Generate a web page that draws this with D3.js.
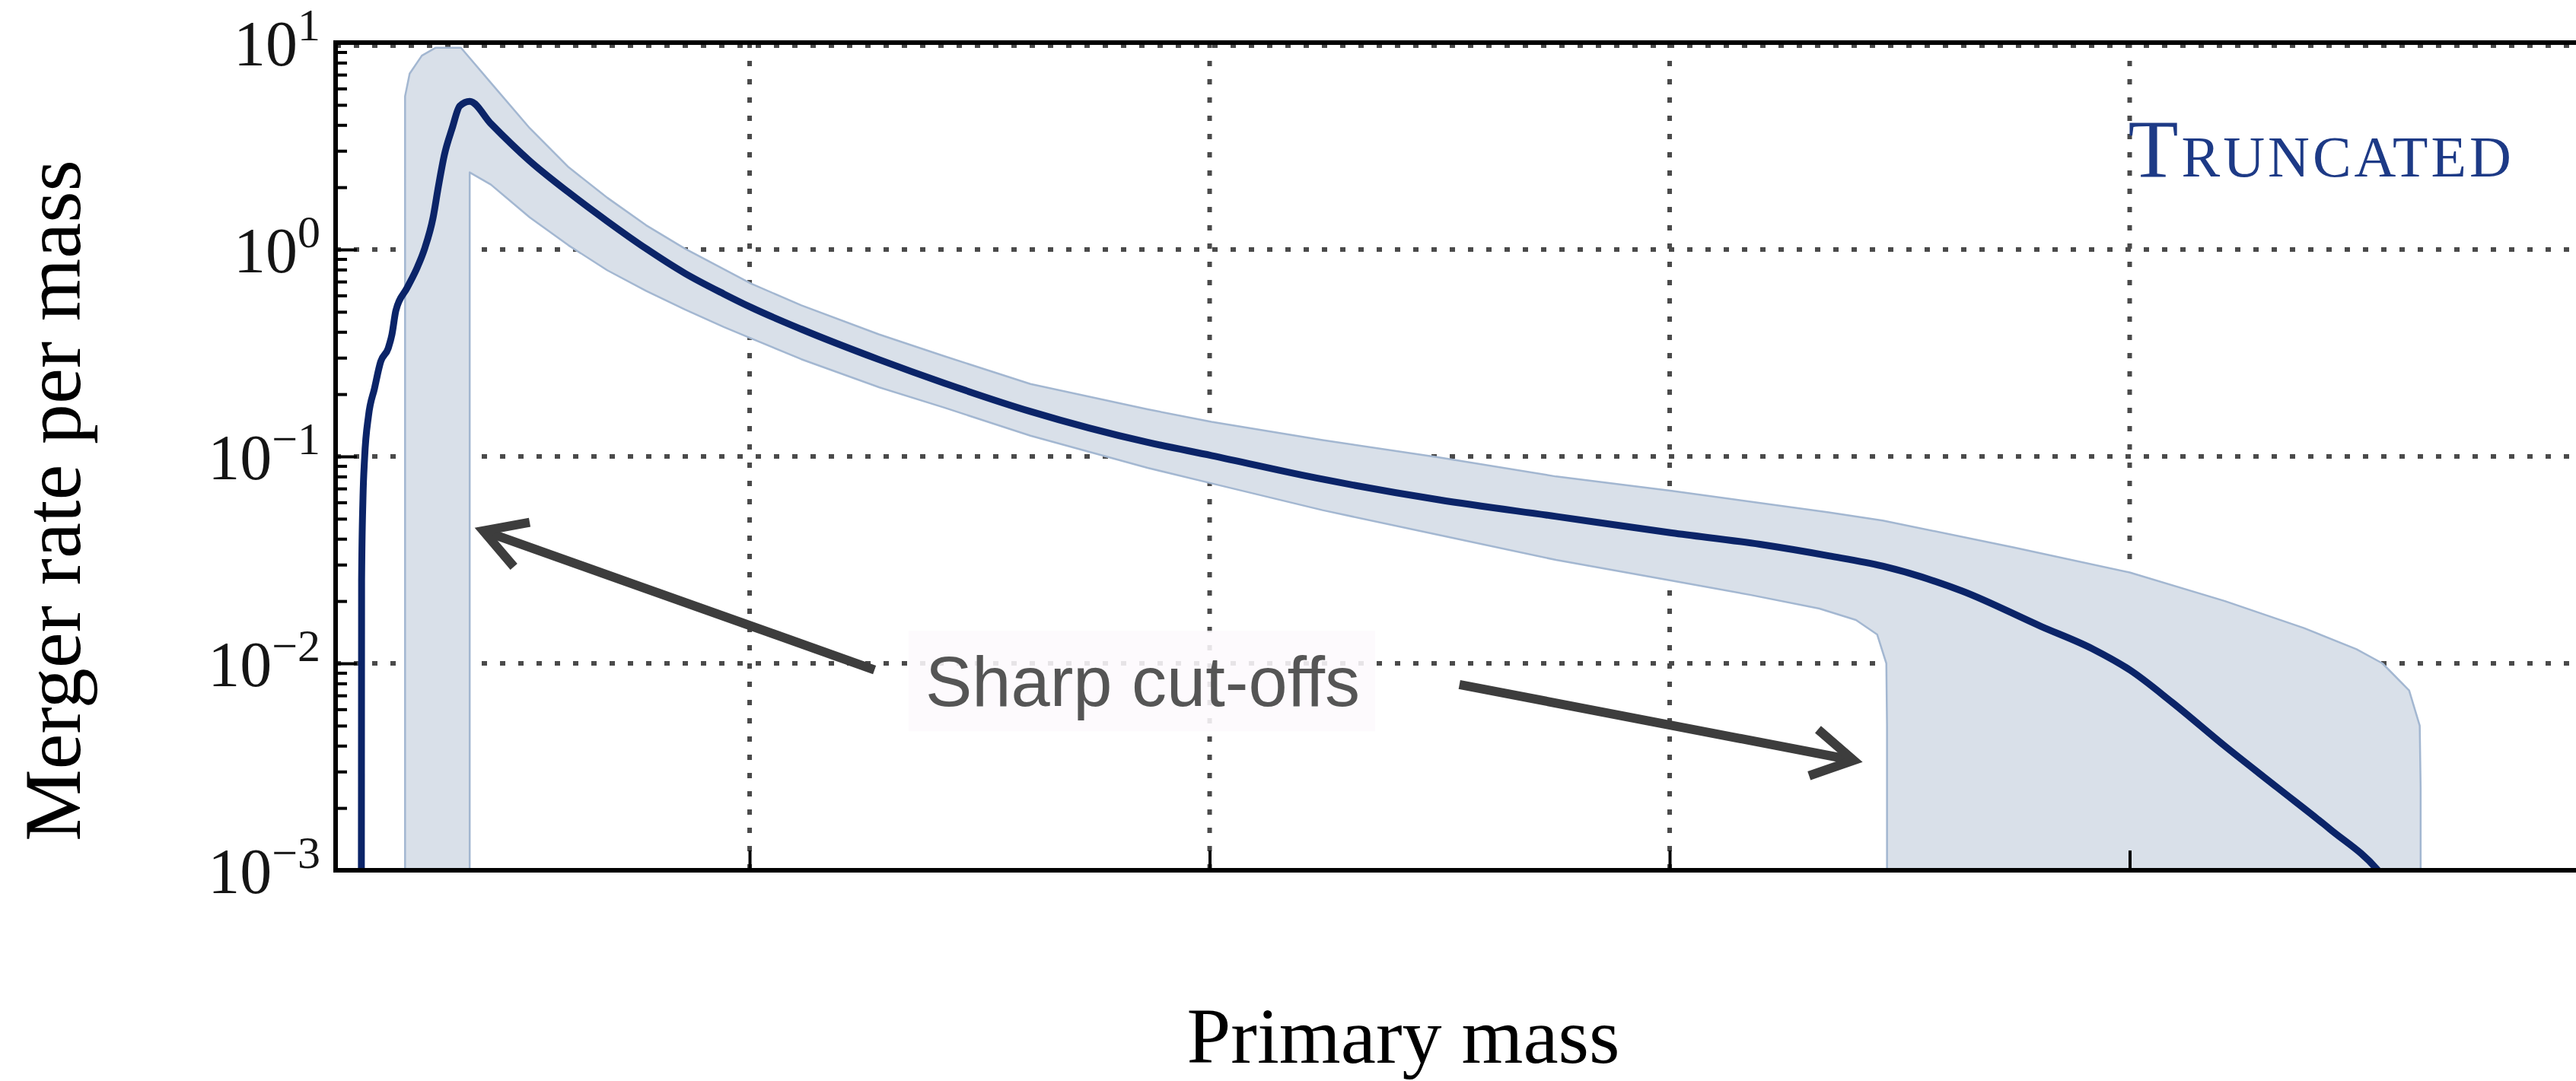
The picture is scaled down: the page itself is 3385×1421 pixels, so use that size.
<!DOCTYPE html>
<html>
<head>
<meta charset="utf-8">
<script src="https://cdn.jsdelivr.net/npm/d3@7"></script>
<style>
  html, body { margin: 0; padding: 0; background: #ffffff; }
  svg { display: block; }
</style>
</head>
<body>
<svg id="chart" width="3385" height="1421"></svg>
<script>
// Merger rate per unit primary mass for the truncated power-law model.
// Masses are in solar masses; rates per unit mass.

// Median curve
const medianMass = [3.12, 3.13, 3.19, 3.26, 3.43, 3.69, 3.96, 4.29, 4.45, 4.62,
  5.11, 5.54, 5.87, 6.24, 6.47, 6.73, 7.07, 7.40, 7.83, 8.75,
  10.44, 12.13, 13.81, 15.50, 17.19, 18.88, 20.07, 22.25, 25.62, 28.47,
  32.21, 37.30, 40.08, 44.91, 49.97, 55.06, 60.09, 63.93, 66.91, 69.26,
  72.70, 76.14, 78.42, 80.00, 81.86, 84.14, 86.42, 88.71, 90.79, 91.50];
const medianRate = [0.0008, 0.025, 0.063, 0.098, 0.157, 0.213, 0.287, 0.334, 0.389, 0.507,
  0.653, 0.815, 1.01, 1.43, 2.02, 2.87, 3.86, 4.94, 5.2, 4.06,
  2.68, 1.89, 1.37, 1.01, 0.767, 0.61, 0.525, 0.412, 0.294, 0.226,
  0.165, 0.117, 0.101, 0.0776, 0.0617, 0.0513, 0.0427, 0.0376, 0.0331, 0.0295,
  0.0224, 0.0151, 0.0117, 0.0093, 0.00646, 0.00398, 0.00251, 0.00158, 0.00100, 0.00079];

// Upper edge of the 90% credible band
const upperMass = [5.02, 5.02, 5.22, 5.75, 6.34, 7.45, 8.80, 10.44, 12.13, 13.81,
  15.50, 17.19, 18.88, 20.07, 22.25, 25.62, 28.47, 32.21, 37.30, 40.08,
  44.91, 49.97, 55.06, 60.09, 66.91, 69.26, 74.98, 80.00, 84.14, 87.58,
  89.86, 90.99, 92.15, 92.61, 92.65, 92.65];
const upperRate = [0.0005, 5.5, 7.08, 8.65, 9.44, 9.44, 6.3, 3.86, 2.5, 1.78,
  1.31, 1.01, 0.804, 0.684, 0.537, 0.389, 0.305, 0.224, 0.169, 0.147,
  0.12, 0.099, 0.080, 0.0682, 0.0537, 0.049, 0.0363, 0.0275, 0.020, 0.0148,
  0.0117, 0.010, 0.0074, 0.005, 0.0025, 0.0005];

// Lower edge of the 90% credible band
const lowerMass = [7.83, 7.83, 8.75, 10.44, 12.13, 13.81, 15.50, 17.19, 18.88, 20.07,
  22.25, 25.62, 28.47, 32.21, 37.30, 40.08, 44.91, 49.97, 55.06, 60.09,
  63.53, 66.51, 68.10, 69.02, 69.42, 69.45, 69.45];
const lowerRate = [0.0005, 2.36, 2.06, 1.43, 1.047, 0.794, 0.631, 0.513, 0.422, 0.372,
  0.295, 0.216, 0.172, 0.126, 0.0881, 0.0741, 0.055, 0.0417, 0.0316, 0.0251,
  0.0214, 0.0184, 0.0162, 0.0138, 0.010, 0.005, 0.0005];

// Axes
const massDomain = [2, 100];
const rateDomain = [1e-3, 10];
const yTickExponents = [1, 0, -1, -2, -3];
const massGrid = [20, 40, 60, 80, 100];
const rateGrid = [10, 1, 0.1, 0.01];

// Text
const xAxisTitle = "Primary mass";
const yAxisTitle = "Merger rate per mass";
const modelName = "Truncated";
const noteText = "Sharp cut-offs";

// Annotation anchors in data coordinates: [mass, rate]
const noteAnchor = [27.64, 0.00622];
const modelAnchor = [80.0, 2.25];
const arrowTails = [[25.43, 0.0093], [50.86, 0.0079]];
const arrowTips = [[8.42, 0.0437], [68.0, 0.0034]];

// ---------------------------------------------------------------------
const svg = d3.select("#chart");

const x = d3.scaleLinear().domain(massDomain).range([441, 3403]);
const y = d3.scaleLog().domain(rateDomain).range([1144, 56]);

const plotLeft = x(massDomain[0]), plotRight = x(massDomain[1]);
const plotTop = y(rateDomain[1]), plotBottom = y(rateDomain[0]);

svg.append("defs").append("clipPath").attr("id", "plot-clip")
  .append("rect")
  .attr("x", plotLeft).attr("y", plotTop)
  .attr("width", plotRight - plotLeft).attr("height", plotBottom - plotTop);

// Dotted grid
const gridStyle = g => g.attr("stroke", "#4a4a4a").attr("stroke-width", 6)
  .attr("stroke-dasharray", "7 17").attr("fill", "none");
const topGridInset = 4; // the 10^1 grid line peeks out just under the frame
const grid = svg.append("g").call(gridStyle);
grid.selectAll("line.h").data(rateGrid).join("line").attr("class", "h")
  .attr("x1", plotLeft).attr("x2", plotRight)
  .attr("y1", d => y(d) + (d === rateDomain[1] ? topGridInset : 0))
  .attr("y2", d => y(d) + (d === rateDomain[1] ? topGridInset : 0));
grid.selectAll("line.v").data(massGrid).join("line").attr("class", "v")
  .attr("x1", d => x(d)).attr("x2", d => x(d))
  .attr("y1", plotTop).attr("y2", plotBottom);

// Credible band: upper edge forward, lower edge back
const bandPoints = upperMass.map((m, i) => [m, upperRate[i]])
  .concat(lowerMass.map((m, i) => [m, lowerRate[i]]).reverse());
const bandLine = d3.line().x(d => x(d[0])).y(d => y(d[1])).curve(d3.curveLinear);

const plot = svg.append("g").attr("clip-path", "url(#plot-clip)");
plot.append("path")
  .attr("d", bandLine(bandPoints) + "Z")
  .attr("fill", "#d9e0e9")
  .attr("stroke", "#a3b7d1")
  .attr("stroke-width", 2.5)
  .attr("stroke-linejoin", "round");

// Median
const medianPoints = medianMass.map((m, i) => [m, medianRate[i]]);
plot.append("path")
  .attr("d", d3.line().x(d => x(d[0])).y(d => y(d[1])).curve(d3.curveMonotoneX)(medianPoints))
  .attr("fill", "none")
  .attr("stroke", "#0b2468")
  .attr("stroke-width", 9)
  .attr("stroke-linejoin", "round")
  .attr("stroke-linecap", "round");

// Ticks: log minor and major ticks pointing into the plot
const decades = yTickExponents.map(e => Math.pow(10, e));
const minor = y.ticks().filter(v => !decades.some(d => Math.abs(d - v) / d < 1e-9));
const tickStyle = g => {
  g.select(".domain").remove();
  g.selectAll(".tick line").attr("stroke", "#000").attr("stroke-width", 4);
  g.selectAll(".tick text").remove();
};
svg.append("g").attr("transform", `translate(${plotLeft},0)`)
  .call(d3.axisRight(y).tickValues(minor).tickSize(15).tickFormat(""))
  .call(tickStyle);
svg.append("g").attr("transform", `translate(${plotLeft},0)`)
  .call(d3.axisRight(y).tickValues(decades).tickSize(28).tickFormat(""))
  .call(tickStyle);
svg.append("g").attr("transform", `translate(0,${plotBottom})`)
  .call(d3.axisTop(x).tickValues(massGrid).tickSize(26).tickFormat(""))
  .call(tickStyle);

// Frame
svg.append("rect")
  .attr("x", plotLeft).attr("y", plotTop)
  .attr("width", plotRight - plotLeft).attr("height", plotBottom - plotTop)
  .attr("fill", "none").attr("stroke", "#000").attr("stroke-width", 6);

// Y tick labels (10^n)
svg.append("g")
  .attr("font-family", "'Liberation Serif', 'DejaVu Serif', serif")
  .attr("fill", "#151515")
  .selectAll("text").data(yTickExponents).join("text")
  .attr("x", plotLeft - 20)
  .attr("y", d => y(Math.pow(10, d)) + 30)
  .attr("text-anchor", "end")
  .attr("font-size", 84)
  .each(function (d) {
    const t = d3.select(this);
    t.append("tspan").text("10");
    t.append("tspan").attr("dy", -33).attr("font-size", 60)
      .text(d < 0 ? "\u2212" + Math.abs(d) : String(d));
  });

// Axis titles
svg.append("text")
  .attr("x", 1844).attr("y", 1397)
  .attr("text-anchor", "middle")
  .attr("font-family", "'Liberation Serif', 'Times New Roman', serif")
  .attr("font-size", 104).attr("fill", "#000")
  .text(xAxisTitle);

svg.append("text")
  .attr("transform", "translate(105,658) rotate(-90)")
  .attr("text-anchor", "middle")
  .attr("font-family", "'Liberation Serif', 'Times New Roman', serif")
  .attr("font-size", 106).attr("fill", "#000")
  .text(yAxisTitle);

// Model name
svg.append("text")
  .attr("x", x(modelAnchor[0]) - 2).attr("y", y(modelAnchor[1]))
  .attr("font-family", "'Liberation Serif', serif")
  .attr("font-size", 108)
  .attr("letter-spacing", 4)
  .style("font-variant", "small-caps")
  .attr("fill", "#1d3a86")
  .text(modelName);

// Annotation: label with a pale backing box
const note = svg.append("g");
const noteBox = note.append("rect");
const noteLabel = note.append("text")
  .attr("x", x(noteAnchor[0])).attr("y", y(noteAnchor[1]))
  .attr("font-family", "'Liberation Sans', Arial, sans-serif")
  .attr("font-size", 92)
  .attr("fill", "#555555")
  .text(noteText);
const bb = noteLabel.node().getBBox();
noteBox.attr("x", bb.x - 22).attr("y", bb.y - 16)
  .attr("width", bb.width + 42).attr("height", bb.height + 30)
  .attr("fill", "#fdf9fd").attr("opacity", 0.88);

// Arrows pointing at the two cut-offs
const arrowG = svg.append("g")
  .attr("stroke", "#3d3d3d").attr("stroke-width", 12).attr("fill", "none");
arrowTails.forEach((tail, i) => {
  const tip = arrowTips[i];
  const tx = x(tail[0]), ty = y(tail[1]);
  const px = x(tip[0]), py = y(tip[1]);
  const ang = Math.atan2(ty - py, tx - px);
  const len = 62, spread = Math.PI / 6;
  const a1 = [px + len * Math.cos(ang + spread), py + len * Math.sin(ang + spread)];
  const a2 = [px + len * Math.cos(ang - spread), py + len * Math.sin(ang - spread)];
  arrowG.append("line")
    .attr("x1", tx).attr("y1", ty)
    .attr("x2", px + 5 * Math.cos(ang)).attr("y2", py + 5 * Math.sin(ang));
  arrowG.append("path")
    .attr("d", d3.line()([a1, [px, py], a2]))
    .attr("stroke-linejoin", "miter");
});
</script>
</body>
</html>
